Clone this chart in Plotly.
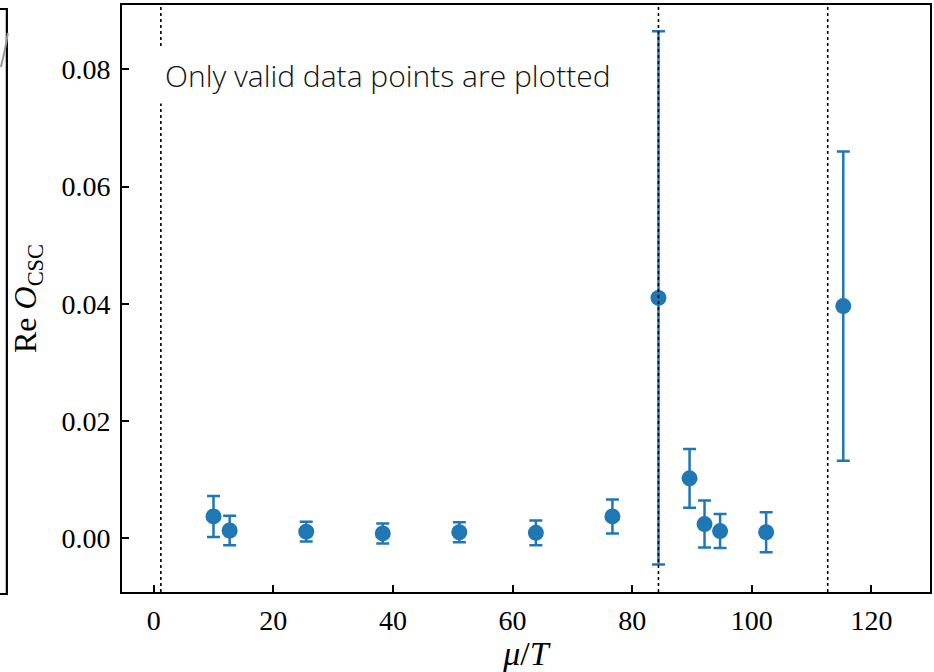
import plotly.graph_objects as go

# data
mu_T = [10.0, 12.7, 25.5, 38.3, 51.1, 63.9, 76.7, 84.4, 89.6, 92.1, 94.7, 102.4, 115.3]
re_O = [0.0037, 0.0013, 0.0011, 0.0008, 0.0010, 0.0009, 0.0037, 0.0410, 0.0102, 0.0024, 0.0012, 0.0010, 0.0396]
err = [0.0035, 0.0025, 0.0017, 0.0017, 0.0017, 0.0021, 0.0029, 0.0455, 0.0050, 0.0040, 0.0029, 0.0034, 0.0264]
vlines = [1.2, 84.4, 112.7]
x_ticks = [0, 20, 40, 60, 80, 100, 120]
y_ticks = [0.00, 0.02, 0.04, 0.06, 0.08]
note = "Only valid data points are plotted"

W, H = 934, 672
L, R, T, B = 121.5, 2, 5, 80
pw, ph = W - L - R, H - T - B

def px(x):
    return (x - L) / pw

def py(y):
    return (H - B - y) / ph

blue = "#1f77b4"
serif = "Liberation Serif, DejaVu Serif, serif"

fig = go.Figure()
fig.add_trace(go.Scatter(
    x=mu_T, y=re_O, mode="markers",
    marker=dict(color=blue, size=16),
    error_y=dict(type="data", array=err, color=blue, thickness=2.5, width=6.5),
    showlegend=False,
))

for v in vlines:
    fig.add_shape(type="line", x0=v, x1=v, y0=0, y1=1, xref="x", yref="paper",
                  line=dict(color="black", width=1.6, dash="dot"), layer="above")

fig.add_annotation(x=0.6, y=0.079, xref="x", yref="y", text=note, showarrow=False,
                   xanchor="left", yanchor="middle", bgcolor="white", borderpad=7,
                   font=dict(family="Open Sans, Lato, sans-serif", size=30, color="#111", weight=300))

# neighbouring panel fragment at far left
fig.add_shape(type="path", xref="paper", yref="paper",
              path=f"M {px(-2)},{py(9)} L {px(6)},{py(9)} L {px(6)},{py(594)} L {px(-2)},{py(594)}",
              line=dict(color="black", width=2.2))
fig.add_shape(type="path", xref="paper", yref="paper",
              path=f"M {px(0)},{py(67)} Q {px(4)},{py(52)} {px(7)},{py(33)}",
              line=dict(color="#999", width=2))

fig.update_layout(
    width=W, height=H,
    margin=dict(l=L, r=R, t=T, b=B),
    paper_bgcolor="white", plot_bgcolor="white",
    xaxis=dict(range=[-5.3, 129.8], tickvals=x_ticks, ticks="inside", ticklen=7, tickwidth=2,
               tickcolor="black", showline=True, linecolor="black", linewidth=2, mirror=True,
               showgrid=False, zeroline=False, ticklabelstandoff=2,
               tickfont=dict(family=serif, size=28, color="black"),
               title=dict(text="<i>μ</i>/<i>T</i>", font=dict(family=serif, size=34, color="black"), standoff=2)),
    yaxis=dict(range=[-0.0092, 0.091], tickvals=y_ticks, tickformat=".2f", ticks="inside", ticklen=7,
               tickwidth=2, tickcolor="black", showline=True, linecolor="black", linewidth=2, mirror=True,
               showgrid=False, zeroline=False, ticklabelstandoff=4,
               tickfont=dict(family=serif, size=28, color="black"),
               title=dict(text="Re <i>O</i><sub>CSC</sub>", font=dict(family=serif, size=32, color="black"), standoff=15)),
)

fig.write_html("out.html")
